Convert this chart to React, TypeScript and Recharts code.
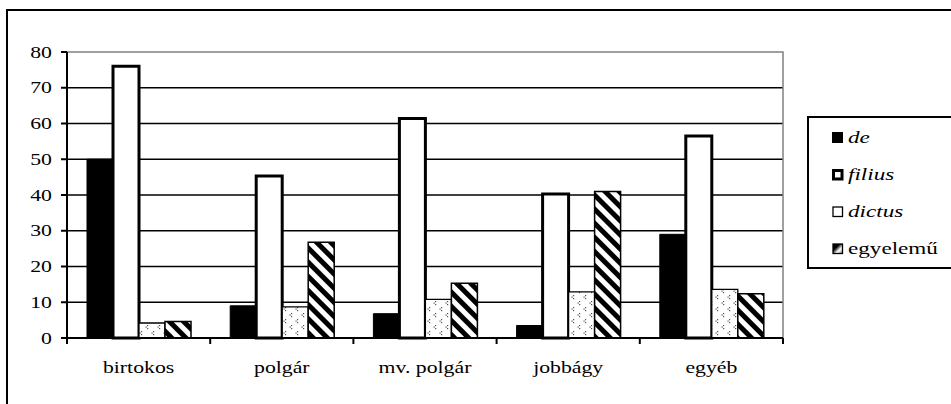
import React from 'react';
import { BarChart, Bar, XAxis, YAxis, CartesianGrid, Legend, ReferenceArea } from 'recharts';

const categories = ['birtokos', 'polgár', 'mv. polgár', 'jobbágy', 'egyéb'];
const deValues = [50, 9, 6.8, 3.5, 29];
const filiusValues = [76, 45.3, 61.4, 40.3, 56.5];
const dictusValues = [4.2, 8.7, 10.8, 12.9, 13.6];
const egyelemuValues = [4.6, 26.8, 15.3, 41, 12.4];
const yTicks = [0, 10, 20, 30, 40, 50, 60, 70, 80];
const seriesNames = ['de', 'filius', 'dictus', 'egyelemű'];

const data = categories.map((c, i) => ({
  name: c,
  de: deValues[i],
  filius: filiusValues[i],
  dictus: dictusValues[i],
  egyelemu: egyelemuValues[i],
}));

const FONT = '"Liberation Serif"';
const SX = 1.36;
const X_TICK_SIZE = 6;
const X_TICK_MARGIN = 18;

const YTick = (props: any) => {
  const { x, y, payload } = props;
  return (
    <text
      x={x}
      y={y}
      dy="0.355em"
      textAnchor="end"
      style={{ fontFamily: FONT, fontSize: 16 }}
      fill="#000"
      transform={`translate(${x},0) scale(${SX},1) translate(${-x},0)`}
    >
      {payload.value}
    </text>
  );
};

const XTick = (props: any) => {
  const { x, y, payload, index, width, visibleTicksCount } = props;
  const n = visibleTicksCount || categories.length;
  const bw = width / n;
  const axisY = y - X_TICK_SIZE - X_TICK_MARGIN;
  const left = x - bw / 2;
  return (
    <g>
      <line x1={left} x2={left} y1={axisY} y2={axisY + X_TICK_SIZE} stroke="#000" strokeWidth={2} />
      {index === n - 1 && (
        <line x1={x + bw / 2} x2={x + bw / 2} y1={axisY} y2={axisY + X_TICK_SIZE} stroke="#000" strokeWidth={2} />
      )}
      <text
        x={x}
        y={y}
        dy="0.71em"
        textAnchor="middle"
        style={{ fontFamily: FONT, fontSize: 16 }}
        fill="#000"
        transform={`translate(${x},0) scale(${SX},1) translate(${-x},0)`}
      >
        {payload.value}
      </text>
    </g>
  );
};

const LegendIcon = ({ idx }: { idx: number }) => {
  return (
    <svg width={12} height={12} style={{ display: 'block' }}>
      <defs>
        <linearGradient id="lgGrad" x1="0" y1="0" x2="1" y2="1">
          <stop offset="0%" stopColor="#000" />
          <stop offset="35%" stopColor="#000" />
          <stop offset="65%" stopColor="#fff" />
          <stop offset="100%" stopColor="#888" />
        </linearGradient>
      </defs>
      {idx === 0 && <rect x={0.5} y={0.5} width={10} height={10} fill="#000" stroke="#000" />}
      {idx === 1 && <rect x={1.5} y={1.5} width={8.5} height={8.5} fill="#fff" stroke="#000" strokeWidth={3} />}
      {idx === 2 && <rect x={1} y={1} width={9.5} height={9.5} fill="#fff" stroke="#000" strokeWidth={1.3} />}
      {idx === 3 && <rect x={1} y={1} width={9.5} height={9.5} fill="url(#lgGrad)" stroke="#000" strokeWidth={1.3} />}
    </svg>
  );
};

const CustomLegend = () => (
  <div
    style={{
      position: 'absolute',
      left: 0,
      top: 0,
      width: 160,
      height: 153,
      borderTop: '2px solid #000',
      borderLeft: '2px solid #000',
      borderBottom: '2px solid #000',
      background: '#fff',
      boxSizing: 'border-box',
      fontFamily: FONT,
      fontSize: 17,
      color: '#000',
    }}
  >
    {seriesNames.map((n, i) => (
      <div
        key={n}
        style={{
          position: 'absolute',
          left: 23,
          top: 9 + i * 37,
          height: 22,
          display: 'flex',
          alignItems: 'center',
          whiteSpace: 'nowrap',
        }}
      >
        <LegendIcon idx={i} />
        <span
          style={{
            display: 'inline-block',
            marginLeft: 4,
            fontFamily: FONT,
            fontStyle: i < 3 ? 'italic' : 'normal',
            transform: `scale(${SX},1)`,
            transformOrigin: 'left center',
          }}
        >
          {n}
        </span>
      </div>
    ))}
  </div>
);

export default function App() {
  return (
    <div style={{ position: 'absolute', left: 0, top: 0, width: 951, height: 404, background: '#fff', overflow: 'hidden' }}>
      <div
        style={{
          position: 'absolute',
          left: 6,
          top: 9,
          width: 960,
          height: 420,
          borderLeft: '2px solid #000',
          borderTop: '2px solid #000',
        }}
      />
      <div style={{ position: 'absolute', left: 0, top: 0 }}>
        <BarChart
          width={951}
          height={404}
          data={data}
          margin={{ top: 52, right: 168, bottom: 26, left: 0 }}
          barGap={0}
          barSize={26}
        >
          <defs>
            <pattern id="stripes" patternUnits="userSpaceOnUse" width={10} height={10} patternTransform="rotate(-45)">
              <rect x={0} y={0} width={10} height={10} fill="#fff" />
              <rect x={0} y={0} width={5} height={10} fill="#000" />
            </pattern>
            <pattern id="dots" patternUnits="userSpaceOnUse" width={12} height={12}>
              <rect x={0} y={0} width={12} height={12} fill="#fff" />
              <rect x={3} y={1} width={1.2} height={1.2} fill="#555" />
              <rect x={1.5} y={2.5} width={1.2} height={1.2} fill="#555" />
              <rect x={3} y={4} width={1.2} height={1.2} fill="#555" />
              <rect x={9} y={7} width={1.2} height={1.2} fill="#555" />
              <rect x={7.5} y={8.5} width={1.2} height={1.2} fill="#555" />
              <rect x={9} y={10} width={1.2} height={1.2} fill="#555" />
            </pattern>
          </defs>
          <CartesianGrid
            xAxisId="cat"
            vertical={false}
            stroke="#000"
            strokeWidth={1.5}
            horizontalValues={yTicks.slice(1, -1)}
          />
          <ReferenceArea xAxisId="cat" y1={0} y2={80} fill="none" stroke="#808080" strokeWidth={1.5} />
          <XAxis
            xAxisId="cat"
            dataKey="name"
            height={40}
            tickLine={false}
            tickSize={X_TICK_SIZE}
            tickMargin={X_TICK_MARGIN}
            axisLine={{ stroke: '#000', strokeWidth: 2 }}
            tick={XTick}
            interval={0}
          />
          <YAxis
            domain={[0, 80]}
            ticks={yTicks}
            width={67}
            tickSize={6}
            tickMargin={9}
            interval={0}
            axisLine={{ stroke: '#000', strokeWidth: 2 }}
            tickLine={{ stroke: '#000', strokeWidth: 2 }}
            tick={YTick}
          />
          <Bar xAxisId="cat" dataKey="de" name="de" fill="#000" stroke="#000" strokeWidth={1} isAnimationActive={false} />
          <Bar xAxisId="cat" dataKey="filius" name="filius" fill="#fff" stroke="#000" strokeWidth={3} isAnimationActive={false} />
          <Bar xAxisId="cat" dataKey="dictus" name="dictus" fill="url(#dots)" stroke="#000" strokeWidth={1.3} isAnimationActive={false} />
          <Bar xAxisId="cat" dataKey="egyelemu" name="egyelemű" fill="url(#stripes)" stroke="#000" strokeWidth={1.5} isAnimationActive={false} />
          <Legend
            layout="vertical"
            align="right"
            verticalAlign="top"
            content={CustomLegend}
            wrapperStyle={{ position: 'absolute', left: 807, top: 116, width: 0, height: 0, overflow: 'visible' }}
          />
        </BarChart>
      </div>
    </div>
  );
}
